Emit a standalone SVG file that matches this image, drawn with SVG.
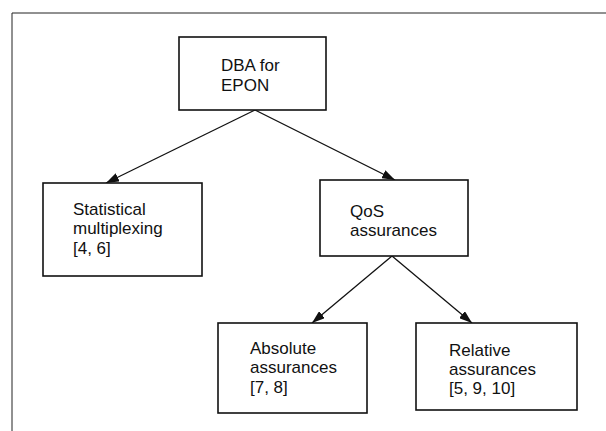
<svg xmlns="http://www.w3.org/2000/svg" width="606" height="431" viewBox="0 0 606 431">
  <style>
    .box { fill: #ffffff; stroke: #111111; stroke-width: 1.6; }
    .lbl { font-family: "Liberation Sans", Arial, sans-serif; font-size: 17px; fill: #111111; }
    .conn { fill: none; stroke: #111111; stroke-width: 1.3; marker-end: url(#arrow); }
    .frame { fill: none; stroke: #222222; stroke-width: 1; }
  </style>
  <defs>
    <marker id="arrow" viewBox="0 0 13 9" refX="13" refY="4.5" markerWidth="13" markerHeight="9" markerUnits="userSpaceOnUse" orient="auto">
      <path d="M0,0 L13,4.5 L0,9 Z" fill="#111111"/>
    </marker>
  </defs>
  <rect width="606" height="431" fill="#ffffff"/>
  <path class="frame" d="M12,431 L12,13 L606,13"/>

  <g id="connectors">
    <line class="conn" x1="255" y1="110" x2="106" y2="183"/>
    <line class="conn" x1="255" y1="110" x2="395" y2="180"/>
    <line class="conn" x1="392" y1="256" x2="312" y2="323"/>
    <line class="conn" x1="392" y1="256" x2="472" y2="323"/>
  </g>

  <g id="dba">
    <rect class="box" x="179" y="37" width="147" height="73"/>
    <text class="lbl" x="221" y="71">DBA for</text>
    <text class="lbl" x="221" y="90.5">EPON</text>
  </g>

  <g id="statistical">
    <rect class="box" x="43" y="183" width="159" height="93"/>
    <text class="lbl" x="73" y="215">Statistical</text>
    <text class="lbl" x="73" y="234.3">multiplexing</text>
    <text class="lbl" x="73" y="253.6">[4, 6]</text>
  </g>

  <g id="qos">
    <rect class="box" x="320" y="180" width="148" height="76"/>
    <text class="lbl" x="350" y="216.5">QoS</text>
    <text class="lbl" x="350" y="235.8">assurances</text>
  </g>

  <g id="absolute">
    <rect class="box" x="218" y="323" width="149" height="90"/>
    <text class="lbl" x="250" y="354">Absolute</text>
    <text class="lbl" x="250" y="373.3">assurances</text>
    <text class="lbl" x="250" y="392.6">[7, 8]</text>
  </g>

  <g id="relative">
    <rect class="box" x="416" y="323" width="161" height="87"/>
    <text class="lbl" x="449" y="355.5">Relative</text>
    <text class="lbl" x="449" y="374.8">assurances</text>
    <text class="lbl" x="449" y="394.1">[5, 9, 10]</text>
  </g>
</svg>
